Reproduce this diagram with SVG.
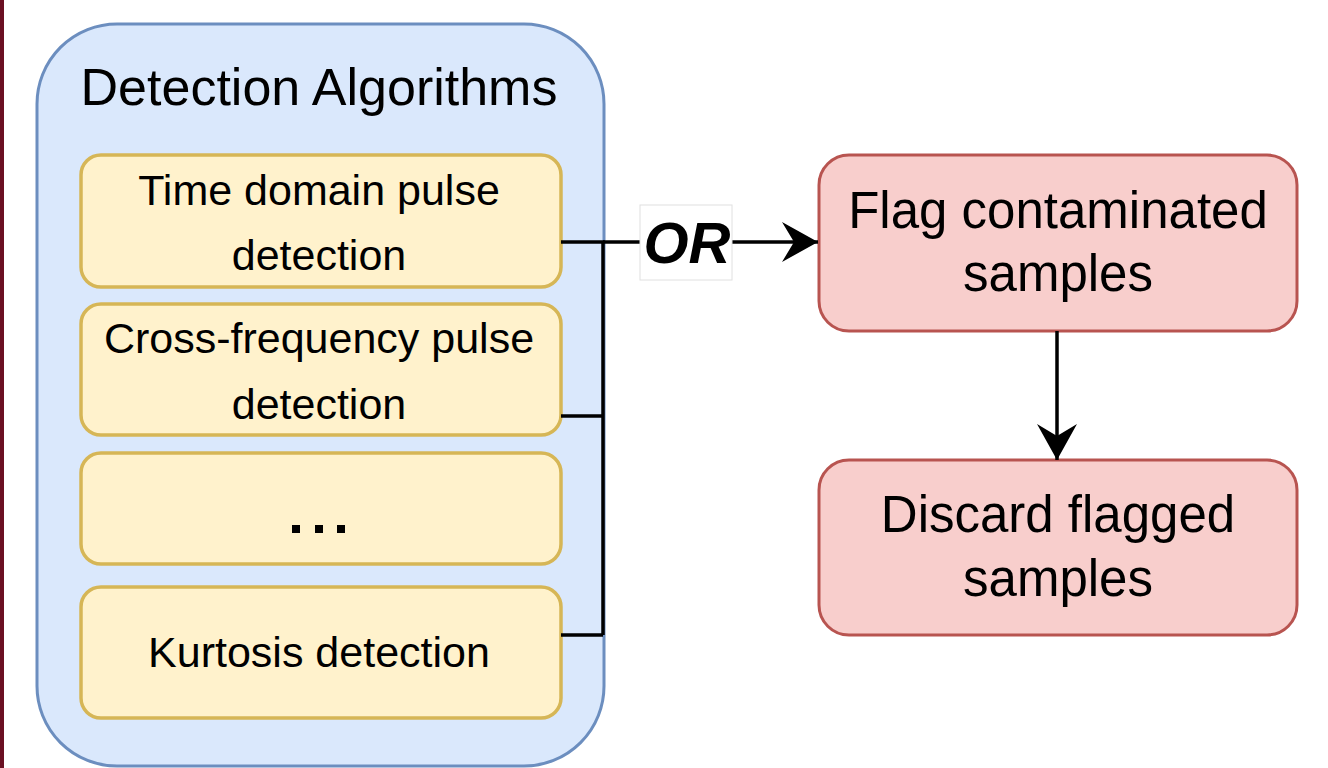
<svg xmlns="http://www.w3.org/2000/svg" width="1328" height="768" viewBox="0 0 1328 768">
  <style>
    text { font-family: "Liberation Sans", Arial, sans-serif; fill: #000; text-anchor: middle; }
    .title { font-size: 52px; }
    .algo { font-size: 43px; }
    .big { font-size: 51px; }
    .container { fill: #dae8fc; stroke: #6c8ebf; stroke-width: 3; }
    .algo-box { fill: #fff2cc; stroke: #d6b656; stroke-width: 3.5; }
    .action { fill: #f8cecc; stroke: #b85450; stroke-width: 3; }
    .wire { fill: none; stroke: #000; stroke-width: 3.5; }
  </style>
  <defs>
    <marker id="arrow" viewBox="0 0 36 40" refX="36" refY="20" markerWidth="36" markerHeight="40" markerUnits="userSpaceOnUse" orient="auto">
      <path d="M0,0 L36,20 L0,40 L12,20 Z" fill="#000"/>
    </marker>
  </defs>

  <rect width="1328" height="768" fill="#fff"/>
  <!-- page edge strip -->
  <rect x="0" y="0" width="4" height="768" fill="#6b0f22"/>

  <g id="detection-algorithms">
    <rect class="container" x="37" y="24" width="567" height="742" rx="80" ry="80"/>
    <text class="title" x="319" y="105">Detection Algorithms</text>
  </g>

  <g id="time-domain">
    <rect class="algo-box" x="81" y="155" width="480" height="132" rx="20" ry="20"/>
    <text class="algo" x="319" y="205">Time domain pulse</text>
    <text class="algo" x="319" y="270">detection</text>
  </g>

  <g id="cross-frequency">
    <rect class="algo-box" x="81" y="304" width="480" height="131" rx="20" ry="20"/>
    <text class="algo" x="319" y="353">Cross-frequency pulse</text>
    <text class="algo" x="319" y="419">detection</text>
  </g>

  <g id="more-algorithms">
    <rect class="algo-box" x="81" y="453" width="480" height="111" rx="20" ry="20"/>
    <rect x="292" y="525" width="8" height="8" fill="#000"/>
    <rect x="315" y="525" width="8" height="8" fill="#000"/>
    <rect x="337" y="525" width="8" height="8" fill="#000"/>
  </g>

  <g id="kurtosis">
    <rect class="algo-box" x="81" y="587" width="480" height="131" rx="20" ry="20"/>
    <text class="algo" x="319" y="667">Kurtosis detection</text>
  </g>

  <g id="flag-samples">
    <rect class="action" x="819" y="155" width="478" height="176" rx="30" ry="30"/>
    <text class="big" x="1058" y="228">Flag contaminated</text>
    <text class="big" x="1058" y="291">samples</text>
  </g>

  <g id="discard-samples">
    <rect class="action" x="819" y="460" width="478" height="175" rx="30" ry="30"/>
    <text class="big" x="1058" y="532">Discard flagged</text>
    <text class="big" x="1058" y="596">samples</text>
  </g>

  <g id="connectors">
    <!-- OR bus collecting every detector -->
    <path class="wire" d="M561,242 H603 V635 M561,416 H603 M561,635 H603"/>
    <path class="wire" d="M603,242 H818" marker-end="url(#arrow)"/>
    <rect x="640" y="205" width="92" height="75" fill="#fff" stroke="#e0e0e0" stroke-width="1"/>
    <text x="687" y="263" style="font-size:58px;font-weight:bold;font-style:italic;">OR</text>
    <path class="wire" d="M1057,331 V460" marker-end="url(#arrow)"/>
  </g>
</svg>
